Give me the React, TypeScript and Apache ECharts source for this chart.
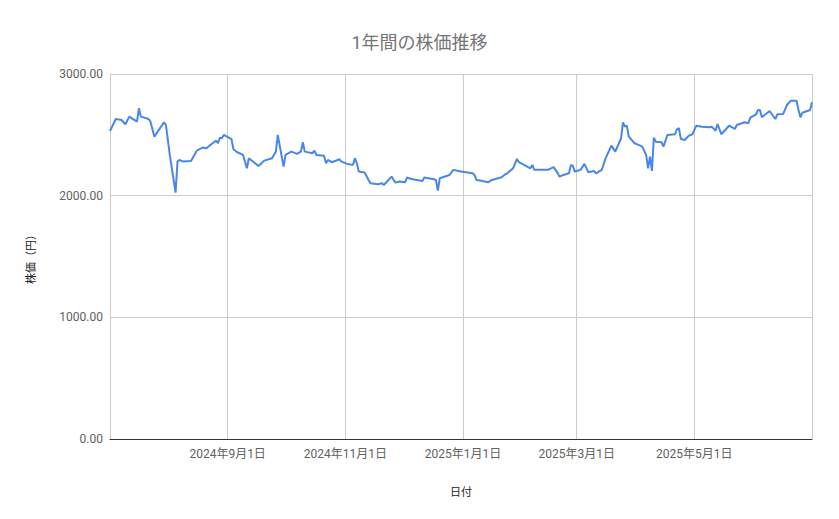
import { useEffect, useRef } from "react";
import * as echarts from "echarts";

const title = "1年間の株価推移";
const xName = "日付";
const yName = "株価（円）";

const dates = [
  "2024-07-02", "2024-07-05", "2024-07-08", "2024-07-10", "2024-07-12", "2024-07-16",
  "2024-07-17", "2024-07-18", "2024-07-22", "2024-07-23", "2024-07-25", "2024-07-30",
  "2024-07-31", "2024-08-02", "2024-08-05", "2024-08-06", "2024-08-07", "2024-08-09",
  "2024-08-13", "2024-08-16", "2024-08-19", "2024-08-21", "2024-08-23", "2024-08-26",
  "2024-08-27", "2024-08-28", "2024-08-29", "2024-08-30", "2024-09-03", "2024-09-04",
  "2024-09-06", "2024-09-09", "2024-09-11", "2024-09-12", "2024-09-17", "2024-09-20",
  "2024-09-24", "2024-09-26", "2024-09-27", "2024-09-30", "2024-10-01", "2024-10-04",
  "2024-10-07", "2024-10-09", "2024-10-10", "2024-10-11", "2024-10-15", "2024-10-16",
  "2024-10-17", "2024-10-21", "2024-10-22", "2024-10-23", "2024-10-25", "2024-10-29",
  "2024-10-30", "2024-11-02", "2024-11-05", "2024-11-06", "2024-11-07", "2024-11-08",
  "2024-11-11", "2024-11-14", "2024-11-18", "2024-11-20", "2024-11-21", "2024-11-25",
  "2024-11-27", "2024-11-29", "2024-12-02", "2024-12-03", "2024-12-04", "2024-12-06",
  "2024-12-11", "2024-12-12", "2024-12-17", "2024-12-18", "2024-12-19", "2024-12-20",
  "2024-12-25", "2024-12-27", "2024-12-31", "2025-01-06", "2025-01-07", "2025-01-08",
  "2025-01-10", "2025-01-14", "2025-01-16", "2025-01-21", "2025-01-23", "2025-01-24",
  "2025-01-27", "2025-01-29", "2025-01-30", "2025-02-05", "2025-02-06", "2025-02-07",
  "2025-02-14", "2025-02-17", "2025-02-19", "2025-02-20", "2025-02-22", "2025-02-25",
  "2025-02-26", "2025-02-27", "2025-02-28", "2025-03-03", "2025-03-05", "2025-03-07",
  "2025-03-10", "2025-03-11", "2025-03-14", "2025-03-16", "2025-03-19", "2025-03-21",
  "2025-03-24", "2025-03-25", "2025-03-26", "2025-03-27", "2025-03-28", "2025-03-31",
  "2025-04-02", "2025-04-04", "2025-04-06", "2025-04-07", "2025-04-08", "2025-04-09",
  "2025-04-10", "2025-04-11", "2025-04-14", "2025-04-15", "2025-04-17", "2025-04-21",
  "2025-04-22", "2025-04-23", "2025-04-24", "2025-04-26", "2025-04-28", "2025-04-30",
  "2025-05-02", "2025-05-05", "2025-05-09", "2025-05-10", "2025-05-12", "2025-05-13",
  "2025-05-15", "2025-05-19", "2025-05-22", "2025-05-23", "2025-05-27", "2025-05-29",
  "2025-05-30", "2025-06-02", "2025-06-03", "2025-06-04", "2025-06-05", "2025-06-09",
  "2025-06-12", "2025-06-13", "2025-06-16", "2025-06-18", "2025-06-20", "2025-06-23",
  "2025-06-24", "2025-06-25", "2025-06-26", "2025-06-30", "2025-07-01",
];

const prices = [
  2532, 2630, 2622, 2587, 2650, 2608,
  2718, 2650, 2630, 2608, 2485, 2603,
  2581, 2335, 2025, 2280, 2294, 2280,
  2285, 2370, 2395, 2390, 2417, 2452,
  2431, 2477, 2472, 2499, 2464, 2382,
  2357, 2335, 2225, 2308, 2244, 2288,
  2308, 2362, 2499, 2239, 2335, 2362,
  2343, 2362, 2439, 2362, 2349, 2370,
  2335, 2329, 2266, 2294, 2275, 2299,
  2280, 2261, 2253, 2308, 2266, 2198,
  2190, 2102, 2094, 2102, 2088, 2157,
  2107, 2116, 2110, 2149, 2143, 2135,
  2121, 2149, 2135, 2129, 2042, 2143,
  2170, 2212, 2198, 2184, 2170, 2129,
  2124, 2110, 2129, 2151, 2176, 2184,
  2225, 2302, 2275, 2225, 2253, 2212,
  2212, 2234, 2190, 2157, 2170, 2184,
  2253, 2245, 2198, 2212, 2261, 2193,
  2203, 2184, 2212, 2308, 2411, 2362,
  2472, 2603, 2567, 2575, 2485, 2431,
  2417, 2403, 2335, 2225, 2321, 2203,
  2477, 2444, 2439, 2403, 2499, 2505,
  2546, 2554, 2466, 2458, 2491, 2505,
  2575, 2567, 2562, 2567, 2534, 2589,
  2505, 2575, 2548, 2581, 2603, 2595,
  2641, 2669, 2704, 2704, 2644, 2696,
  2630, 2669, 2671, 2745, 2781, 2781,
  2704, 2644, 2682, 2704, 2767,
];

const shownMonths = [1, 3, 5, 9, 11];

const font = "Roboto, 'Noto Sans CJK JP', sans-serif";

export default function App() {
  const chartRef = useRef<HTMLDivElement>(null);

  useEffect(() => {
    if (!chartRef.current) return;
    const chart = echarts.init(chartRef.current, null, { renderer: "svg" });

    const option: echarts.EChartsOption = {
      animation: false,
      backgroundColor: "#ffffff",
      textStyle: { fontFamily: font },
      title: {
        text: title,
        left: "center",
        top: 20,
        textStyle: { fontSize: 18, fontWeight: "normal", color: "#757575", fontFamily: font },
      },
      grid: { left: 102, right: 19, top: 66, bottom: 72 },
      xAxis: {
        type: "time",
        min: "2024-07-02",
        max: "2025-07-01",
        name: xName,
        nameLocation: "middle",
        nameGap: 48,
        nameTextStyle: { fontSize: 11, color: "#222222", fontFamily: font },
        axisLine: { show: true, lineStyle: { color: "#333333", width: 1 } },
        axisTick: { show: false },
        splitLine: { show: true, lineStyle: { color: "#cccccc", width: 1 } },
        axisLabel: {
          color: "#616161",
          fontSize: 12,
          margin: 9,
          hideOverlap: false,
          showMinLabel: false,
          showMaxLabel: false,
          formatter: (value: number) => {
            const d = new Date(value);
            const m = d.getMonth() + 1;
            if (d.getDate() !== 1 || !shownMonths.includes(m)) return "";
            return `${d.getFullYear()}年${m}月${d.getDate()}日`;
          },
        },
      },
      yAxis: {
        type: "value",
        min: 0,
        max: 3000,
        interval: 1000,
        name: yName,
        nameLocation: "middle",
        nameGap: 73,
        nameTextStyle: { fontSize: 11, color: "#222222", fontFamily: font },
        axisLine: { show: false },
        axisTick: { show: false },
        splitLine: { lineStyle: { color: "#cccccc", width: 1 } },
        axisLabel: {
          color: "#616161",
          fontSize: 12,
          margin: 7,
          formatter: (v: number) => v.toFixed(2),
        },
      },
      series: [
        {
          type: "line",
          data: dates.map((d, i) => [d, prices[i]]),
          showSymbol: false,
          lineStyle: { color: "#4a86e8", width: 2 },
          itemStyle: { color: "#4a86e8" },
        },
      ],
    };

    chart.setOption(option);

    return () => {
      chart.dispose();
    };
  }, []);

  return <div ref={chartRef} style={{ width: 823, height: 503 }} />;
}
